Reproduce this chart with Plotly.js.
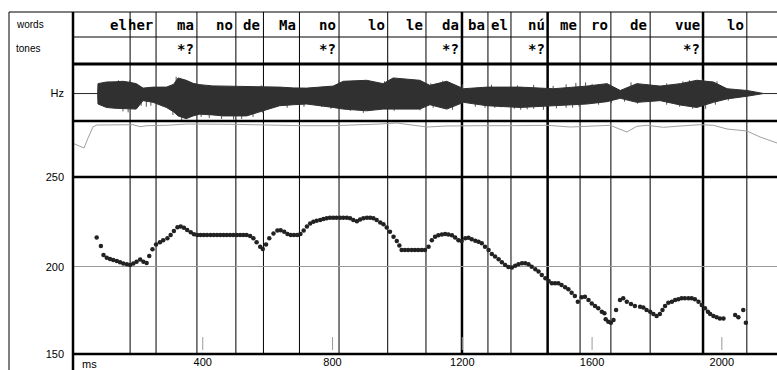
<!DOCTYPE html>
<html><head><meta charset="utf-8">
<script src="https://cdn.plot.ly/plotly-3.0.1.min.js"></script>
<style>html,body{margin:0;padding:0;background:#fff}#chart{width:777px;height:370px}</style>
</head><body><div id="chart"></div>
<script>
// ---- data ----
const boundaryMs = [176, 256, 382, 502, 587, 698, 820, 970, 1088, 1199, 1279, 1350, 1463, 1563, 1658, 1779, 1942, 2077];
const words = ['el','her','ma','no','de','Ma','no','lo','le','da','ba','el','nú','me','ro','de','vue','lo'];
const toneEndMs = [382, 820, 1199, 1463, 1942];
const toneLabels = ['*?','*?','*?','*?','*?'];
const strongBoundaryMs = [1199, 1463, 1942];
const xTickVals = [400, 800, 1200, 1600, 2000];
const xTickText = ['400', '800', '1200', '1600', '2000'];
const hzTickVals = [150, 200, 251.4];
const hzTickText = ['150', '200', '250'];

const pitchMs = [73,86,94,104,114,124,135,145,155,166,176,186,196,207,217,227,235,245,256,268,278,291,301,311,322,332,342,352,363,373,
 383,393,403,413,424,434,444,454,464,474,484,494,505,515,525,535,546,556,566,577,585,595,605,618,630,640,651,661,671,681,691,701,711,721,731,741,751,762,772,782,
 792,802,812,823,833,844,854,864,875,885,895,906,916,926,936,947,957,967,977,988,998,1006,1013,1023,1033,1044,1054,1064,1075,1085,
 1096,1106,1116,1126,1137,1147,1157,1168,1178,1188,1198,1209,1219,1229,1240,1250,1260,1270,1281,1291,1301,1312,1322,1332,1342,1353,1363,1373,1384,1394,
 1404,1414,1425,1435,1445,1456,1466,1476,1486,1496,1506,1517,1527,1537,1547,1556,1568,1578,1589,1599,1609,1619,1630,1638,1642,1650,1658,1666,1674,1686,
 1696,1707,1720,1732,1748,1758,1768,1779,1789,1799,1809,1817,1825,1835,1846,1856,1866,1876,1886,1897,1907,1917,1928,1938,1948,1957,1964,1974,1984,1994,2005,
 2041,2051,2066,2074];
const pitchHz = [216.8,211.9,206.7,205.2,204.4,203.8,203.3,202.5,201.9,201.4,201,201.9,202.9,204.2,202.9,202.1,206.1,210,212.8,214,215.1,216.3,218.2,220.4,222.6,223.1,222.3,221,219.7,218.6,
 218.2,218.2,218.2,218.2,218.2,218.2,218.2,218.2,218.2,218.2,218.2,218.2,218.2,218.2,218.2,218.2,217.6,216.3,214,211.4,210.1,212.8,216.3,219,220.7,220.9,220,218.8,218.2,218.2,218.2,218.8,220.8,223,224.8,225.7,226.3,226.7,227.3,227.7,
 228,228,228,228,228,228,227.7,226.7,226.1,227,227.7,228,228,227.7,226.7,225.4,224.3,222.4,220,217.2,214.8,212.1,209.6,209.6,209.6,209.6,209.6,209.6,209.6,209.6,
 211.4,215.2,217.2,218.1,218.5,218.8,218.5,218.1,216.8,215.2,214.8,216.3,216.6,215.7,214.9,214.3,213.4,211.4,209.6,207.3,205.8,204.3,202.6,201,199.9,199.5,200.6,201.4,202,202,
 201.4,200,198.5,197.2,195.3,193.4,191.8,190.5,190.6,190.5,189.5,188.2,187.1,185.1,183.2,180,182.5,182.8,180.9,179,177.5,176.2,174.2,173.3,169.9,168.5,167.9,169.5,175.2,180.9,
 181.9,180,178.6,177.5,177.1,176.7,175.2,174.2,172.9,171.8,172.9,175.2,177.5,179.4,180,180.9,181.3,181.9,181.9,181.9,181.9,181.3,180,178.1,176.2,174.2,172.9,171.8,171,170.4,170.4,
 172.3,171,175.2,167.9];

const waveMs     = [0, 76, 77, 90, 103, 130, 154, 175, 195, 216, 247, 288, 310, 324, 349, 370, 391, 430, 462, 535, 586, 637, 680, 720, 802, 833, 905, 956, 987, 1030, 1069, 1100, 1152, 1204, 1276, 1378, 1481, 1584, 1646, 1687, 1738, 1810, 1872, 1923, 1974, 2016, 2077, 2129, 2170];
const waveTop    = [0, 0, 9.7, 10.5, 11.3, 11.5, 12, 11, 9.7, 5.3, 6.3, 6.3, 9, 15.3, 13, 10, 8.7, 7.5, 7.3, 7.3, 6.3, 6.3, 5.5, 5.3, 7.3, 12, 13, 9.7, 15.3, 14, 13, 8, 12, 4.7, 6.3, 6.3, 4.7, 7.3, 9.7, 3, 9.7, 7.3, 9.7, 13, 11.3, 4.7, 3, 0, 0];
const waveBottom = [0, 0, -10.3, -12, -13.7, -14.5, -14.7, -15, -15.3, -7, -8.7, -13.7, -18, -22, -24.7, -22, -20.3, -21, -22, -22, -17, -12, -11, -10.3, -13.7, -15.3, -17, -15.3, -15.3, -15.3, -15.3, -11, -15.3, -8.7, -12, -13.7, -12, -10.3, -8, -4.7, -8.7, -7, -11.3, -13.7, -8.7, -5.3, -2.7, 0, 0];

// glottal-pulse spikes that stick out of the waveform envelope
const spikeMs  = [154, 170, 210, 226, 240, 308, 335, 395, 420, 458, 495, 520, 555, 585, 660, 712, 766, 795, 855, 895, 990, 1070, 1110, 1170, 1240, 1270, 1300, 1320, 1360, 1380, 1400, 1420, 1450, 1490, 1520, 1540, 1560, 1620, 1660, 1700, 1740, 1780, 1830, 1870, 1910, 1950, 1980, 2020,
                  140, 175, 318, 580, 820, 960, 1103, 1140, 1200, 1290, 1370, 1420, 1480, 1520, 1550, 1580, 1600, 1720, 1770, 1830, 1880, 1900, 1940, 1985];
const spikeAmp = [-17.5, -18.5, -12, -13, -12, -21, -26, -23, -24, -25, -25.5, -25, -23, -19, -14, -13, -13, -15, -17, -19, -17, -16.5, -14, -16, -13, -14, -14, -13.5, -15, -16, -15.5, -15, -16, -14.5, -14, -14, -13, -11, -9.5, -8, -10, -10, -11, -13, -15, -15, -11, -7,
                  13, 13, 16.5, 8, 13, 12, 10, 12.5, 9, 8.5, 8, 8.5, 7.5, 9, 10.5, 11, 9.5, 11, 9, 10, 12, 13, 14, 12];

const intensityMs  = [0, 22, 34, 46, 62, 74, 185, 207, 227, 289, 351, 493, 597, 700, 802, 906, 946, 998, 1091, 1152, 1203, 1255, 1357, 1461, 1533, 1615, 1656, 1707, 1738, 1769, 1820, 1872, 1933, 1974, 2016, 2077, 2118, 2170];
const intensityVal = [33.7, 31, 29, 38.7, 50.3, 52, 52.3, 50.3, 51.3, 51.7, 53, 52.7, 51.7, 51.3, 51.3, 52, 53, 54, 50, 51, 51.3, 51.3, 51.3, 51.7, 50, 51.3, 51.7, 45, 50.7, 51.7, 49.7, 51, 52.3, 51.7, 48, 46, 40, 34];

// ---- geometry (paper fractions) ----
const W = 777, H = 370, ML = 73, MT = 12, MB = 16;
const PW = W - ML, PH = H - MT - MB;
const py = v => (H - MB - v) / PH;      // pixel row -> paper y
const pxp = v => (v - ML) / PW;         // pixel col -> paper x
const dPitch = [0, py(177)], dInt = [py(177), py(121)], dWave = [py(121), py(64)];
const rowWords = py(24.5), rowTones = py(49);

const spikeX = [], spikeY = [];
spikeMs.forEach((t, i) => { spikeX.push(t, t, null); spikeY.push(0, spikeAmp[i], null); });

const traces = [
  {x: intensityMs, y: intensityVal, xaxis: 'x', yaxis: 'y2', mode: 'lines', line: {color: '#a0a0a0', width: 1}, hoverinfo: 'skip'},
  {x: spikeX, y: spikeY, xaxis: 'x', yaxis: 'y3', mode: 'lines', line: {color: '#555', width: 1}, hoverinfo: 'skip', connectgaps: false},
  {x: waveMs, y: waveTop, xaxis: 'x', yaxis: 'y3', mode: 'lines', line: {color: '#303030', width: 1}, hoverinfo: 'skip'},
  {x: waveMs, y: waveBottom, xaxis: 'x', yaxis: 'y3', mode: 'lines', fill: 'tonexty', fillcolor: '#303030', line: {color: '#303030', width: 1}, hoverinfo: 'skip'},
  {x: pitchMs, y: pitchHz, xaxis: 'x', yaxis: 'y', mode: 'markers', marker: {size: 4.5, color: '#222'}, hoverinfo: 'skip'}
];

const shapes = [];
boundaryMs.forEach(b => {
  const strong = strongBoundaryMs.includes(b);
  shapes.push({type: 'line', xref: 'x', yref: 'paper', x0: b, x1: b, y0: 0, y1: 1, layer: 'below',
    line: {color: '#000', width: strong ? 2.5 : 1}});
});
xTickVals.forEach(t => {
  shapes.push({type: 'line', xref: 'x', yref: 'y', x0: t, x1: t, y0: 152.3, y1: 159.7, layer: 'below', line: {color: '#999', width: 1}});
});
const hline = (yp, w) => ({type: 'line', xref: 'paper', yref: 'paper', x0: 0, x1: 1, y0: yp, y1: yp, line: {color: '#000', width: w}});
shapes.push(hline(py(37), 1), hline(py(64), 3), hline(py(121), 2.5), hline(py(177), 2.5), hline(0, 2.5));
shapes.push({type: 'line', xref: 'paper', yref: 'paper', x0: pxp(9), x1: 1, y0: 1, y1: 1, line: {color: '#000', width: 1}});
shapes.push({type: 'line', xref: 'paper', yref: 'paper', x0: pxp(9), x1: pxp(9), y0: py(370), y1: 1, line: {color: '#000', width: 1}});
shapes.push({type: 'line', xref: 'paper', yref: 'paper', x0: 0, x1: 0, y0: py(370), y1: 1, line: {color: '#000', width: 2.5}});

const monoFont = {family: 'DejaVu Sans Mono, Liberation Mono, monospace', size: 14, color: '#000'};
const sansFont = {family: 'Liberation Sans, Arial, sans-serif', size: 10, color: '#000'};
const annotations = [];
words.forEach((w, i) => {
  annotations.push({x: boundaryMs[i], xref: 'x', y: rowWords, yref: 'paper', text: '<b>' + w + '</b>', showarrow: false,
    xanchor: 'right', yanchor: 'middle', xshift: -1, font: monoFont});
});
toneLabels.forEach((t, i) => {
  annotations.push({x: toneEndMs[i], xref: 'x', y: rowTones, yref: 'paper', text: '<b>' + t + '</b>', showarrow: false,
    xanchor: 'right', yanchor: 'middle', xshift: -1, font: monoFont});
});
annotations.push({x: pxp(14), xref: 'paper', y: rowWords, yref: 'paper', text: 'words', showarrow: false, xanchor: 'left', yanchor: 'middle', font: sansFont});
annotations.push({x: pxp(14), xref: 'paper', y: rowTones, yref: 'paper', text: 'tones', showarrow: false, xanchor: 'left', yanchor: 'middle', font: sansFont});
annotations.push({x: pxp(80), xref: 'paper', y: py(364), yref: 'paper', text: 'ms', showarrow: false, xanchor: 'left', yanchor: 'middle', font: {family: sansFont.family, size: 11, color: '#000'}});

const tickFont = {family: 'Liberation Sans, Arial, sans-serif', size: 11, color: '#000'};
const layout = {
  width: W, height: H, margin: {l: ML, r: 0, t: MT, b: MB, pad: 0},
  paper_bgcolor: '#fff', plot_bgcolor: '#fff', showlegend: false,
  xaxis: {range: [0, 2170], domain: [0, 1], showgrid: false, zeroline: false, showline: false, ticks: '',
    tickvals: xTickVals, ticktext: xTickText, tickfont: tickFont, anchor: 'y', fixedrange: true},
  yaxis: {domain: dPitch, range: [150, 251.4], tickvals: hzTickVals, ticktext: hzTickText, tickfont: tickFont, ticklabelstandoff: 8,
    showgrid: true, gridcolor: '#9a9a9a', gridwidth: 1, zeroline: false, showline: false, ticks: '', anchor: 'x'},
  yaxis2: {domain: dInt, range: [0, 56], showgrid: false, zeroline: false, showticklabels: false, ticks: '', anchor: 'x'},
  yaxis3: {domain: dWave, range: [-27, 29], showgrid: false, zeroline: false, tickvals: [0], ticktext: ['Hz'], ticklabelstandoff: 8,
    tickfont: {family: sansFont.family, size: 11, color: '#000'}, ticks: '', anchor: 'x'},
  shapes: shapes, annotations: annotations
};
Plotly.newPlot('chart', traces, layout, {staticPlot: true, displayModeBar: false});
</script></body></html>
